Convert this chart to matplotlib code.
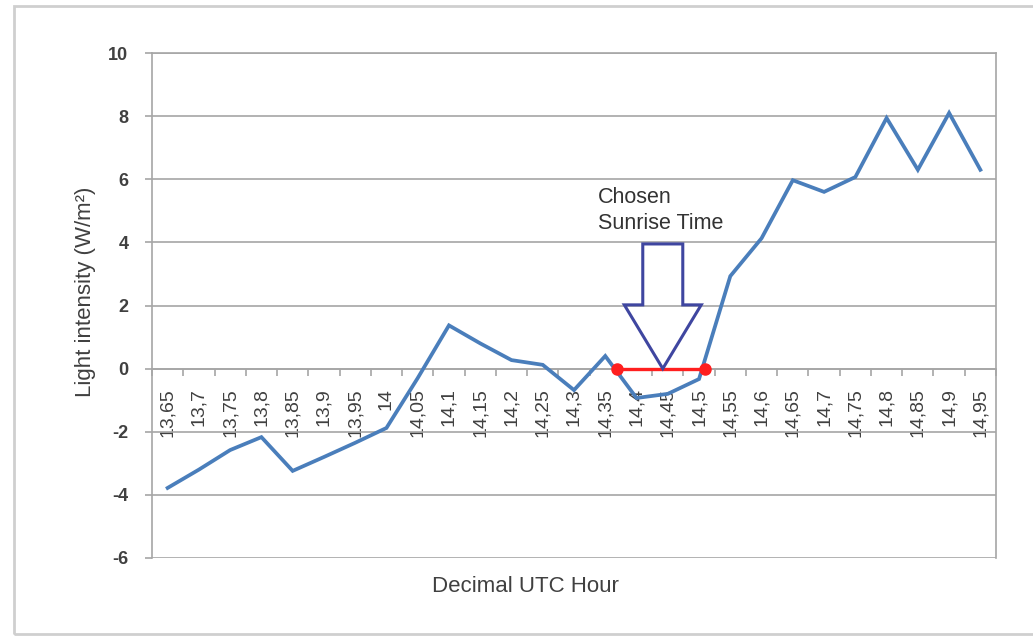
import numpy as np
import matplotlib
matplotlib.use("Agg")
import matplotlib.pyplot as plt
from matplotlib.patches import Polygon, Rectangle

# Light intensity readings vs decimal UTC hour
hours = [13.65, 13.70, 13.75, 13.80, 13.85, 13.90, 13.95, 14.00, 14.05,
         14.10, 14.15, 14.20, 14.25, 14.30, 14.35, 14.40, 14.45, 14.50,
         14.55, 14.60, 14.65, 14.70, 14.75, 14.80, 14.85, 14.90, 14.95]
intensity = [-3.78, -3.2, -2.58, -2.17, -3.24, -2.8, -2.35, -1.88, -0.3,
             1.37, 0.8, 0.27, 0.12, -0.68, 0.4, -0.93, -0.8, -0.33,
             2.93, 4.13, 5.97, 5.6, 6.07, 7.94, 6.3, 8.1, 6.3]
tick_labels = [f"{h:.2f}".rstrip("0").rstrip(".").replace(".", ",") for h in hours]

# Sunrise window (red) and chosen sunrise (arrow tip)
window_hours = [14.369, 14.51]
window_vals = [0, 0]
sunrise_hour = 14.442

step = 0.05
def to_idx(h):
    return (np.asarray(h) - hours[0]) / step

plt.rcParams["font.family"] = ["Liberation Sans", "DejaVu Sans"]

fig = plt.figure(figsize=(10.33, 6.37), dpi=100)
ax = fig.add_axes([152 / 1033, 1 - 558 / 637, 844 / 1033, 505 / 637])

grid_c = "#a6a6a6"
text_c = "#404040"

# x axis crosses at y = 0 (do this first, it resets the ticks)
ax.spines["bottom"].set_position(("data", 0))
for s in ax.spines.values():
    s.set_color(grid_c)
    s.set_linewidth(1.2)

x = np.arange(len(hours))
ax.plot(x, intensity, color="#4a7ebb", lw=2.7, solid_joinstyle="miter", zorder=3)
ax.plot(to_idx(window_hours), window_vals, color="#ff1f1f", lw=2.4,
        marker="o", ms=8, zorder=4)

# hollow down arrow pointing at the chosen sunrise time
tip = float(to_idx(sunrise_hour))
shaft_w, head_w = 0.64, 1.23
arrow = Polygon([(tip - shaft_w, 3.95), (tip + shaft_w, 3.95), (tip + shaft_w, 2.02),
                 (tip + head_w, 2.02), (tip, 0.0), (tip - head_w, 2.02),
                 (tip - shaft_w, 2.02)], closed=True, fill=False,
                edgecolor="#3f46a0", lw=2.2, joinstyle="miter", zorder=5)
ax.add_patch(arrow)
ax.text(13.77, 5.75, "Chosen\nSunrise Time", fontsize=15.5, color="#333333",
        va="top", ha="left", linespacing=1.3, zorder=6)

ax.set_xlim(-0.5, len(hours) - 0.5)
ax.set_ylim(-6, 10)
ax.set_yticks(range(-6, 11, 2))
ax.set_yticklabels([str(v) for v in range(-6, 11, 2)], fontsize=13,
                   fontweight="bold", color=text_c)
ax.grid(axis="y", color=grid_c, lw=1.2)
ax.set_axisbelow(True)

ax.set_xticks(x)
ax.set_xticklabels(tick_labels, fontsize=14, color=text_c)
ax.set_xticks(np.arange(-0.5, len(hours), 1), minor=True)
ax.tick_params(axis="x", which="major", length=0, pad=14, labelrotation=90)
ax.tick_params(axis="x", which="minor", length=5, color=grid_c, width=1.2, direction="out")
ax.tick_params(axis="y", length=5, color=grid_c, width=1.2, pad=12)

ax.set_ylabel("Light intensity (W/m²)", fontsize=16, color=text_c)
ax.yaxis.set_label_coords(-0.066, 0.527)
fig.text(525 / 1033, 1 - 587 / 637, "Decimal UTC Hour", fontsize=16,
         color=text_c, ha="center", va="center")

# outer chart frame
fig.add_artist(Rectangle((14 / 1033, 3 / 637), 1.2, 628 / 637, transform=fig.transFigure,
                         fill=False, edgecolor="#cfcfcf", lw=2))

fig.savefig("out.png", dpi=100)
